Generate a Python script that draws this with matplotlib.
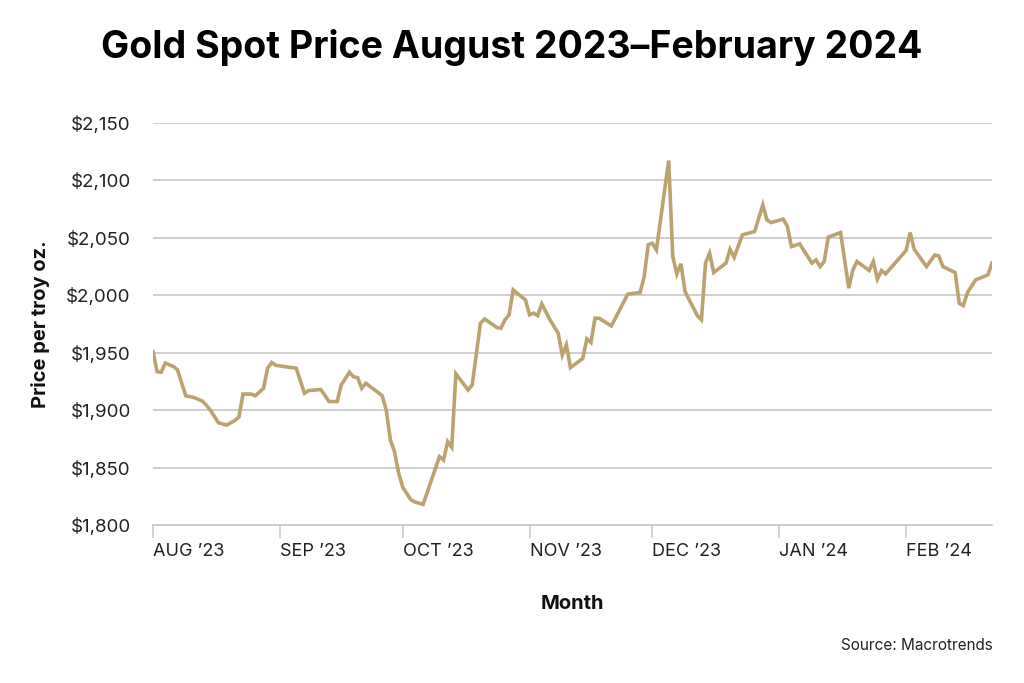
import matplotlib
matplotlib.use("Agg")
import matplotlib.pyplot as plt
import pandas as pd

dates = [
    "2023-08-01", "2023-08-02", "2023-08-03", "2023-08-04", "2023-08-06", "2023-08-07",
    "2023-08-09", "2023-08-11", "2023-08-13", "2023-08-14", "2023-08-15", "2023-08-17",
    "2023-08-19", "2023-08-21", "2023-08-22", "2023-08-23", "2023-08-25", "2023-08-26",
    "2023-08-28", "2023-08-29", "2023-08-30", "2023-08-31", "2023-09-05", "2023-09-07",
    "2023-09-08", "2023-09-11", "2023-09-13", "2023-09-15", "2023-09-16", "2023-09-18",
    "2023-09-19", "2023-09-20", "2023-09-21", "2023-09-22", "2023-09-26", "2023-09-27",
    "2023-09-28", "2023-09-29", "2023-09-30", "2023-10-01", "2023-10-03", "2023-10-04",
    "2023-10-06", "2023-10-10", "2023-10-11", "2023-10-12", "2023-10-13", "2023-10-14",
    "2023-10-17", "2023-10-18", "2023-10-20", "2023-10-21", "2023-10-24", "2023-10-25",
    "2023-10-26", "2023-10-27", "2023-10-28", "2023-10-31", "2023-11-01", "2023-11-02",
    "2023-11-03", "2023-11-04", "2023-11-06", "2023-11-08", "2023-11-09", "2023-11-10",
    "2023-11-11", "2023-11-14", "2023-11-15", "2023-11-16", "2023-11-17", "2023-11-18",
    "2023-11-21", "2023-11-25", "2023-11-28", "2023-11-29", "2023-11-30", "2023-12-01",
    "2023-12-02", "2023-12-05", "2023-12-06", "2023-12-07", "2023-12-08", "2023-12-09",
    "2023-12-12", "2023-12-13", "2023-12-14", "2023-12-15", "2023-12-16", "2023-12-19",
    "2023-12-20", "2023-12-21", "2023-12-23", "2023-12-26", "2023-12-28", "2023-12-29",
    "2023-12-30", "2024-01-02", "2024-01-03", "2024-01-04", "2024-01-06", "2024-01-09",
    "2024-01-10", "2024-01-11", "2024-01-12", "2024-01-13", "2024-01-16", "2024-01-18",
    "2024-01-19", "2024-01-20", "2024-01-23", "2024-01-24", "2024-01-25", "2024-01-26",
    "2024-01-27", "2024-02-01", "2024-02-02", "2024-02-03", "2024-02-06", "2024-02-08",
    "2024-02-09", "2024-02-10", "2024-02-13", "2024-02-14", "2024-02-15", "2024-02-16",
    "2024-02-18", "2024-02-21", "2024-02-22",
]
prices = [
    1951, 1933.5, 1933, 1941, 1938, 1935,
    1912.5, 1911, 1908, 1904.5, 1900, 1889,
    1887, 1891, 1894, 1914, 1914, 1912.5,
    1919, 1936.5, 1941.5, 1939, 1936.5, 1914.7,
    1917, 1918, 1907.5, 1907.5, 1922, 1933,
    1929, 1928.3, 1919, 1923.4, 1912.6, 1900,
    1874, 1864, 1845.6, 1833, 1822, 1820,
    1818, 1859.5, 1856.6, 1872.6, 1867.7, 1931.5,
    1917.6, 1922, 1975.7, 1979.4, 1972, 1971.3,
    1978.6, 1983, 2004.7, 1996, 1983, 1984.4,
    1982.3, 1992.5, 1978.6, 1967, 1948, 1956.8,
    1937, 1945, 1962, 1958.8, 1980, 1980,
    1973.3, 2001, 2002.4, 2015.8, 2044, 2045.4,
    2039.5, 2117.3, 2033.7, 2018.6, 2027.4, 2003.2,
    1982.3, 1978.6, 2028, 2036.7, 2019.8, 2028,
    2040, 2033, 2052.6, 2055.5, 2078.7, 2065.7,
    2063.3, 2066.3, 2060, 2042.4, 2044.8, 2028,
    2030.8, 2025, 2029.4, 2050.6, 2054.6, 2006.2,
    2022, 2029.4, 2021.6, 2029.4, 2014, 2021.6,
    2018.6, 2039, 2054.6, 2040, 2025, 2035,
    2034.3, 2025, 2019.8, 1993, 1991, 2002.4,
    2013.4, 2017.8, 2028,
]
month_ticks = ["2023-08-01", "2023-09-01", "2023-10-01", "2023-11-01",
               "2023-12-01", "2024-01-01", "2024-02-01"]
month_labels = ["AUG \u201923", "SEP \u201923", "OCT \u201923", "NOV \u201923",
                "DEC \u201923", "JAN \u201924", "FEB \u201924"]
y_ticks = [1800, 1850, 1900, 1950, 2000, 2050, 2100, 2150]

title = "Gold Spot Price August 2023\u2013February 2024"

plt.rcParams['font.family'] = ['Inter', 'DejaVu Sans']

fig = plt.figure(figsize=(10.24, 6.83), dpi=100)
ax = fig.add_axes([153/1024, 1-525/683, (992-153)/1024, (525-123)/683])

x = pd.to_datetime(dates)
ax.plot(x, prices, color="#BBA36F", lw=2.6, solid_joinstyle="miter", zorder=3)

ax.set_xlim(x[0], x[-1])
ax.set_ylim(1800, 2150)
ax.set_yticks(y_ticks)
ax.set_yticklabels([f"${v:,.0f}" for v in y_ticks])
ax.set_xticks(pd.to_datetime(month_ticks))
ax.set_xticklabels(month_labels, ha="left")

ax.grid(axis="y", color="#CCCCCC", lw=1.3)
ax.set_axisbelow(True)
for s in ["top", "right", "left"]:
    ax.spines[s].set_visible(False)
ax.spines["bottom"].set_color("#CCCCCC")
ax.spines["bottom"].set_linewidth(1.3)

ax.tick_params(axis="y", length=0, pad=16, labelsize=13.5, labelcolor="#222222")
ax.tick_params(axis="x", length=9, width=1.2, color="#CCCCCC", pad=4,
               labelsize=13, labelcolor="#222222")

ax.set_ylabel("Price per troy oz.", fontsize=14.5, fontweight="bold",
              labelpad=12, color="#111111")
ax.set_xlabel("Month", fontsize=14.5, fontweight="bold", labelpad=25,
              color="#111111")

fig.text(0.5, 1-47/683, title, ha="center", va="center",
         fontsize=27, fontweight="bold", color="#000000")
fig.text(993/1024, 1-646/683, "Source: Macrotrends", ha="right", va="center",
         fontsize=11, color="#222222")

fig.savefig("out.png", dpi=100, facecolor="white")
